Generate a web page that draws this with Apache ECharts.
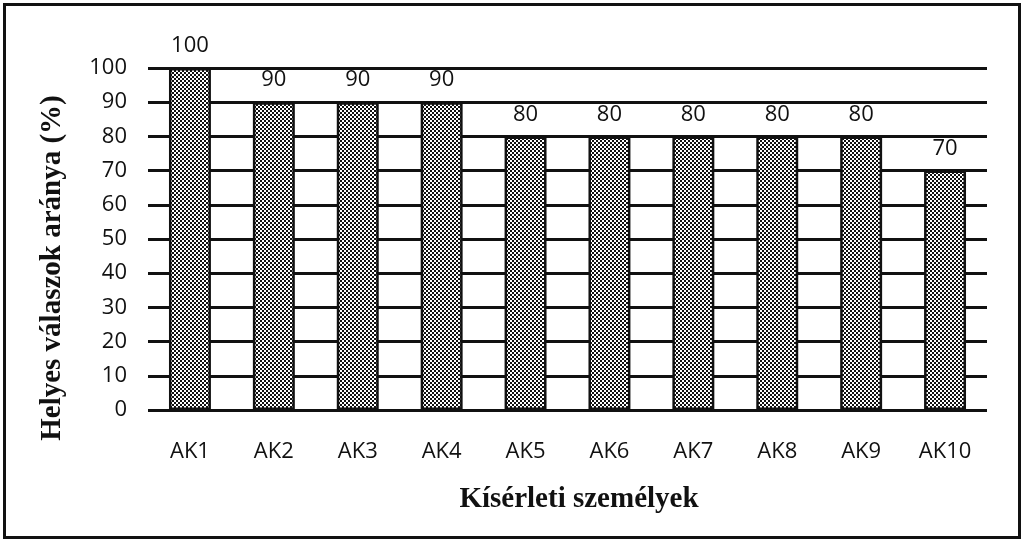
<!DOCTYPE html>
<html><head><meta charset="utf-8">
<script src="https://cdn.jsdelivr.net/npm/echarts@6/dist/echarts.min.js"></script>
<style>
html,body{margin:0;padding:0;background:#fff;}
#frame{position:absolute;left:3px;top:3px;width:1012px;height:530px;border:3px solid #111;}
#c{position:absolute;left:0;top:0;width:1024px;height:542px;}
</style></head>
<body>
<div id="frame"></div>
<div id="c"></div>
<script>
const categories = ['AK1','AK2','AK3','AK4','AK5','AK6','AK7','AK8','AK9','AK10'];
const values = [100,90,90,90,80,80,80,80,80,70];
const yTicks = {min:0, max:100, interval:10};
const xTitle = 'Kísérleti személyek';
const yTitle = 'Helyes válaszok aránya (%)';

const tile = document.createElement('canvas');
tile.width = 4; tile.height = 4;
const tc = tile.getContext('2d');
tc.fillStyle = '#fff'; tc.fillRect(0,0,4,4);
tc.fillStyle = '#111';
tc.fillRect(0,0,2,2); tc.fillRect(2,2,2,2);

const sans = '"Open Sans", "Liberation Sans", sans-serif';
const titleFont = 'bold 29px "Liberation Serif", serif';

const chart = echarts.init(document.getElementById('c'), null, {renderer:'canvas'});
chart.setOption({
  animation:false,
  backgroundColor:'transparent',
  grid:{left:148,right:37,top:68,bottom:132,containLabel:false},
  graphic:[
    {type:'text', position:[579,500], style:{text:xTitle, font:titleFont, fill:'#111', align:'center', verticalAlign:'middle'}},
    {type:'text', position:[53,268], rotation:Math.PI/2, style:{text:yTitle, font:titleFont, fill:'#111', align:'center', verticalAlign:'middle'}}
  ],
  xAxis:{
    type:'category', data:categories,
    axisLine:{show:false}, axisTick:{show:false},
    axisLabel:{color:'#111', fontFamily:sans, fontSize:22, margin:31}
  },
  yAxis:{
    type:'value', min:yTicks.min, max:yTicks.max, interval:yTicks.interval,
    axisLine:{show:false}, axisTick:{show:false},
    splitLine:{show:true, lineStyle:{color:'#111', width:3}},
    axisLabel:{color:'#111', fontFamily:sans, fontSize:22, margin:21}
  },
  series:[{
    type:'bar', data:values, barWidth:'50%',
    itemStyle:{color:{image:tile, repeat:'repeat'}, borderColor:'#111', borderWidth:2.5},
    label:{show:true, position:'top', distance:11, color:'#111', fontFamily:sans, fontSize:22}
  }]
});
</script>
</body></html>
